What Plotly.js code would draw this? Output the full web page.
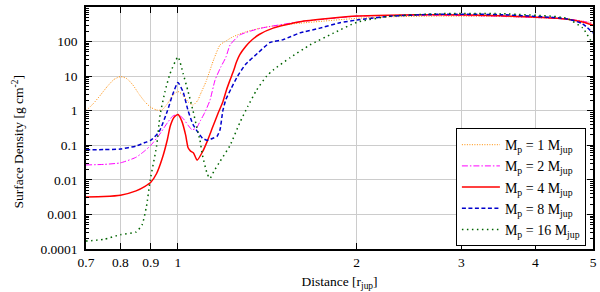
<!DOCTYPE html>
<html>
<head>
<meta charset="utf-8">
<script src="https://cdn.plot.ly/plotly-3.0.1.min.js"></script>
<style>
html,body{margin:0;padding:0;background:#fff;}
#chart{width:600px;height:292px;}
</style>
</head>
<body>
<div id="chart"></div>
<script>
// Mp = 1 M_jup
const x1 = [0.70,0.72,0.74,0.76,0.78,0.80,0.82,0.84,0.86,0.88,0.90,0.92,0.94,0.96,0.98,1.00,1.02,1.04,1.06,1.08,1.09,1.115,1.15,1.177,1.20,1.238,1.30,1.37,1.45,1.605,2.0,2.275,2.76,3.5,4.5,4.8,5.0];
const y1 = [1.0,1.6,2.8,5.0,8.0,9.7,8.5,5.5,3.0,1.8,1.25,1.05,1.05,1.6,2.8,3.6,2.8,1.8,1.45,2.0,2.9,7,32,80,100,138,190,240,285,340,470,520,545,530,450,390,345];
// Mp = 2 M_jup
const x2 = [0.70,0.75,0.80,0.85,0.88,0.90,0.93,0.96,0.98,1.00,1.02,1.04,1.056,1.075,1.09,1.11,1.132,1.155,1.18,1.204,1.224,1.271,1.374,1.605,2.0,2.275,2.76,3.5,4.5,4.8,5.0];
const y2 = [0.027,0.028,0.031,0.045,0.07,0.10,0.2,0.45,0.7,0.78,0.6,0.38,0.28,0.32,0.5,0.9,2.0,7.8,18,35,80,155,240,375,540,570,580,540,450,390,330];
// Mp = 4 M_jup
const x4 = [0.70,0.75,0.80,0.85,0.88,0.90,0.92,0.94,0.96,0.97,0.985,1.00,1.015,1.03,1.04,1.05,1.062,1.077,1.10,1.12,1.145,1.17,1.19,1.207,1.224,1.24,1.255,1.271,1.30,1.322,1.37,1.446,1.605,2.0,2.275,2.76,3.5,4.5,4.8,5.0];
const y4 = [0.0032,0.0033,0.0036,0.0048,0.0065,0.0085,0.015,0.04,0.15,0.35,0.65,0.78,0.5,0.2,0.085,0.068,0.06,0.037,0.065,0.13,0.35,0.9,1.8,4.0,7.8,14,26,42,72,99,160,245,376,550,580,600,560,450,370,300];
// Mp = 8 M_jup
const x8 = [0.70,0.75,0.80,0.85,0.88,0.90,0.93,0.96,0.98,1.00,1.02,1.04,1.06,1.08,1.10,1.119,1.145,1.163,1.177,1.19,1.204,1.23,1.26,1.30,1.36,1.43,1.50,1.55,1.605,1.734,1.874,2.0,2.275,2.76,3.5,4.5,4.8,5.0];
const y8 = [0.074,0.075,0.078,0.095,0.12,0.14,0.25,1.0,3.0,6.6,3.5,1.0,0.4,0.24,0.16,0.14,0.16,0.18,0.28,1.0,2.1,4.5,10,22,45,95,112,140,178,245,350,420,540,620,600,460,330,177];
// Mp = 16 M_jup
const x16 = [0.70,0.75,0.80,0.85,0.87,0.885,0.898,0.92,0.933,0.951,0.97,1.00,1.02,1.04,1.06,1.077,1.089,1.10,1.12,1.132,1.15,1.177,1.224,1.271,1.31,1.357,1.41,1.446,1.544,1.669,1.824,2.0,2.275,2.76,3.5,4.5,4.8,5.0];
const y16 = [0.00017,0.00019,0.00026,0.00031,0.0005,0.0017,0.01,0.09,0.76,3.6,12,36,12,3.6,1.0,0.3,0.14,0.05,0.015,0.011,0.018,0.034,0.1,0.45,1.3,4.0,10,15,34,80,173,360,540,640,640,480,250,82];

const seriesNames = ['M<sub>p</sub> = 1 M<sub>jup</sub>','M<sub>p</sub> = 2 M<sub>jup</sub>','M<sub>p</sub> = 4 M<sub>jup</sub>','M<sub>p</sub> = 8 M<sub>jup</sub>','M<sub>p</sub> = 16 M<sub>jup</sub>'];
const xTickVals = [0.7,0.8,0.9,1,2,3,4,5];
const xTickText = ['0.7','0.8','0.9','1','2','3','4','5'];
const yTickVals = [0.0001,0.001,0.01,0.1,1,10,100,1000];
const yTickText = ['0.0001','0.001','0.01','0.1','1','10','100','1000'];
const xTitle = 'Distance [r<sub>jup</sub>]';
const yTitle = 'Surface Density [g cm<sup>-2</sup>]';

const styles = [
  {color:'#ff8c00', width:1, dash:'1px,1.5px'},
  {color:'#ff00ff', width:1, dash:'6px,2px,1.5px,2px'},
  {color:'#ff0000', width:1.5, dash:'solid'},
  {color:'#0000cc', width:1.5, dash:'4px,2.5px'},
  {color:'#006400', width:1.5, dash:'1.5px,3.5px'}
];
const xs = [x1,x2,x4,x8,x16];
const ys = [y1,y2,y4,y8,y16];
const traces = xs.map((xx,i)=>({
  x: xx, y: ys[i], type:'scatter', mode:'lines', name: seriesNames[i],
  line: Object.assign({shape:'spline', smoothing:0.5}, styles[i])
}));

function mkFont(sz){ return {family:'Liberation Serif, Times New Roman, serif', size:sz, color:'#000'}; }
const minorVals = [];
for (let e=-4; e<3; e++) for (let k=2; k<10; k++) minorVals.push(k*Math.pow(10,e));

const layout = {
  width:600, height:292,
  margin:{l:86, r:7, t:7, b:43},
  paper_bgcolor:'#fff', plot_bgcolor:'#fff',
  font: mkFont(13.5),
  showlegend:true,
  legend:{x:0.986, y:0.012, xanchor:'right', yanchor:'bottom', bgcolor:'#fff', bordercolor:'#000', borderwidth:1, font:mkFont(14), itemwidth:38, tracegroupgap:0},
  xaxis:{
    type:'log', range:[Math.log10(0.7), Math.log10(5)],
    tickmode:'array', tickvals:xTickVals, ticktext:xTickText,
    ticks:'inside', ticklen:6, tickcolor:'#000', tickwidth:1,
    showline:true, linecolor:'#000', linewidth:1.5, mirror:'ticks',
    showgrid:true, gridcolor:'#cccccc', gridwidth:1, zeroline:false,
    title:{text:xTitle, font:mkFont(13.5), standoff:8},
    automargin:false, tickfont:mkFont(13.5)
  },
  yaxis:{
    type:'log', range:[-4, 3],
    tickmode:'array', tickvals:yTickVals, ticktext:yTickText,
    ticks:'inside', ticklen:6, tickcolor:'#000', tickwidth:1,
    minor:{tickmode:'array', tickvals:minorVals, ticks:'inside', ticklen:3, tickcolor:'#000', showgrid:false},
    showline:true, linecolor:'#000', linewidth:1.5, mirror:'ticks',
    showgrid:true, gridcolor:'#cccccc', gridwidth:1, zeroline:false,
    automargin:false, tickfont:mkFont(13.5), ticklabelstandoff:4
  },
  annotations:[{
    text:yTitle, xref:'paper', yref:'paper', x:-0.134, y:0.44,
    xanchor:'center', yanchor:'middle', textangle:-90, showarrow:false, font:mkFont(13.5)
  }]
};
Plotly.newPlot('chart', traces, layout, {displayModeBar:false});
</script>
</body>
</html>
